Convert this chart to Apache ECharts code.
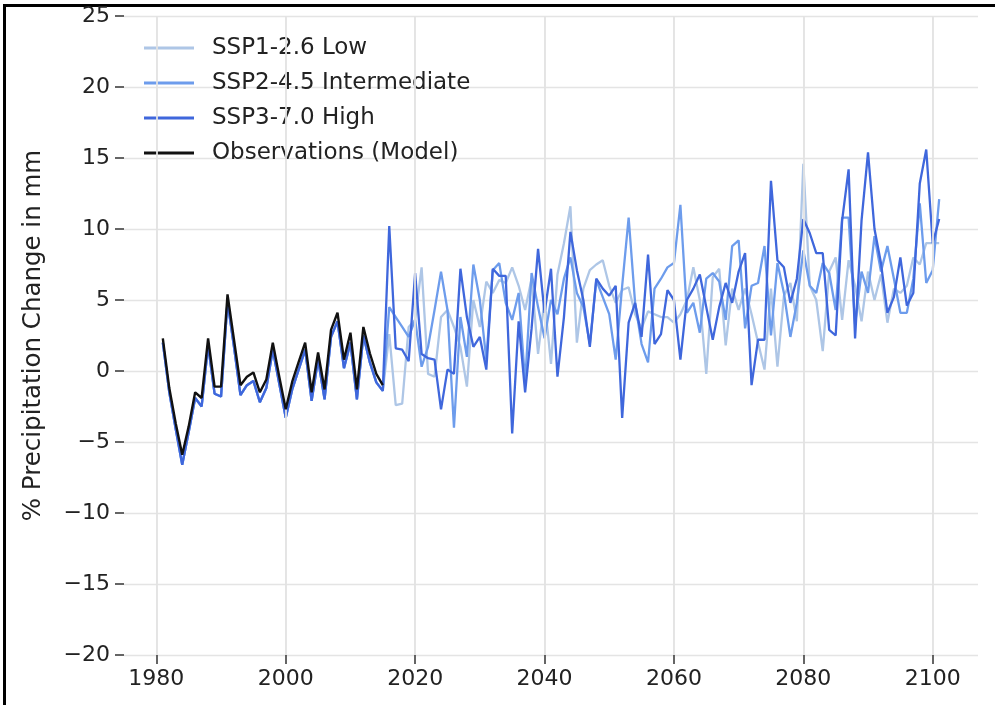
<!DOCTYPE html>
<html>
<head>
<meta charset="utf-8">
<script src="https://cdn.jsdelivr.net/npm/echarts@6/dist/echarts.min.js"></script>
<style>
html,body{margin:0;padding:0;background:#fff;}
#c{width:995px;height:705px;}
</style>
</head>
<body>
<div id="c"></div>
<script>
const histYears = [];
for (let y = 1981; y <= 2015; y++) histYears.push(y);
const futYears = [];
for (let y = 2016; y <= 2101; y++) futYears.push(y);

const obsValues = [2.3,-1.2,-3.7,-5.9,-3.9,-1.5,-1.9,2.3,-1.1,-1.1,5.4,2.2,-1.0,-0.4,-0.1,-1.5,-0.6,2.0,-0.4,-2.7,-0.75,0.65,2.0,-1.5,1.3,-1.3,2.9,4.1,0.8,2.7,-1.3,3.1,1.25,-0.2,-1.0];
const histModel = [2.0,-1.5,-4.1,-6.6,-4.3,-1.9,-2.5,1.8,-1.6,-1.8,4.9,1.7,-1.7,-1.0,-0.7,-2.2,-1.2,1.5,-0.9,-3.3,-1.3,0.1,1.5,-2.1,0.8,-2.0,2.4,3.5,0.2,2.0,-2.0,2.5,0.6,-0.8,-1.4];

// 2016..2101
const ssp1 = [2.6,-2.4,-2.3,3.1,3.6,7.3,-0.2,-0.4,3.8,4.3,3.1,1.7,-1.1,5.0,3.1,6.3,5.5,6.4,6.2,7.3,
  6.0,4.3,6.5,1.2,5.0,0.5,6.8,9.0,11.6,2.0,5.8,7.1,7.5,7.8,6.0,4.8,5.7,5.9,4.0,3.0,4.2,4.0,3.8,3.8,
  3.4,4.0,5.0,7.3,5.0,-0.2,6.6,7.2,1.8,5.8,4.3,5.8,4.0,2.0,0.1,5.8,0.3,5.3,6.2,3.5,14.6,
  6.0,5.0,1.4,7.0,8.0,3.6,7.8,6.0,3.5,7.0,5.0,6.8,3.4,5.8,5.5,6.0,8.0,7.5,9.0,9.0,9.0];
const ssp2 = [4.5,3.8,3.1,2.4,3.6,0.3,1.7,4.3,7.0,4.3,-4.0,3.8,1.0,7.5,5.0,0.8,7.1,7.6,4.8,3.6,
  5.5,-0.8,6.9,4.5,2.3,5.0,4.0,6.5,8.0,5.5,4.5,1.9,6.4,5.2,4.0,0.8,6.0,10.8,4.8,1.9,0.6,5.8,6.5,7.3,
  7.6,11.7,4.1,4.8,2.7,6.5,6.9,6.3,3.6,8.8,9.2,3.0,6.0,6.2,8.8,2.5,7.6,5.5,2.4,4.8,8.5,
  6.0,5.5,7.6,6.9,4.3,10.8,10.8,3.3,7.0,5.5,9.5,7.0,8.8,6.5,4.1,4.1,6.5,11.8,6.2,7.1,12.1];
const ssp3 = [10.2,1.6,1.5,0.7,6.9,1.2,0.9,0.8,-2.7,0.1,-0.2,7.2,3.8,1.7,2.4,0.1,7.2,6.7,6.7,-4.4,
  3.5,-1.5,3.0,8.6,4.1,7.2,-0.4,3.8,9.8,7.1,5.0,1.7,6.5,5.8,5.3,6.0,-3.3,3.4,4.8,2.4,8.2,1.9,2.6,5.7,
  5.0,0.8,5.0,5.8,6.8,4.5,2.2,4.5,6.2,4.8,7.0,8.3,-1.0,2.2,2.2,13.4,7.8,7.3,4.8,6.5,10.7,
  9.7,8.3,8.3,2.9,2.5,10.6,14.2,2.3,10.6,15.4,10.0,7.6,4.1,5.2,8.0,4.6,5.5,13.2,15.6,9.0,10.7];

const xTicks = [1980,2000,2020,2040,2060,2080,2100];
const seriesNames = ['SSP1-2.6 Low','SSP2-4.5 Intermediate','SSP3-7.0 High','Observations (Model)'];
const seriesColors = ['#aec6e6','#6d9cec','#3f67dc','#111111'];

function pairs(years, vals){ return years.map((y,i)=>[y, vals[i]]); }
const allYears = histYears.concat(futYears);

const chart = echarts.init(document.getElementById('c'), null, {renderer:'canvas'});
const font = 'DejaVu Sans';
const sspVals = [ssp1, ssp2, ssp3];

const series = [];
series.push({
  type:'line', name:'_grid', data:[], silent:true, z:0,
  markLine:{ silent:true, symbol:['none','none'], label:{show:false},
    lineStyle:{color:'#e2e2e2', width:1.8, type:'solid'},
    data: xTicks.map(t=>({xAxis:t})), animation:false}
});
for (let k=0;k<3;k++){
  series.push({
    type:'line', name:seriesNames[k], data:pairs(allYears, histModel.concat(sspVals[k])),
    showSymbol:false, symbol:'none', z:2+k,
    lineStyle:{width:2.3, color:seriesColors[k]}, itemStyle:{color:seriesColors[k]}
  });
}
series.push({
  type:'line', name:seriesNames[3], data:pairs(histYears, obsValues),
  showSymbol:false, symbol:'none', z:6,
  lineStyle:{width:2.4, color:seriesColors[3]}, itemStyle:{color:seriesColors[3]}
});

chart.setOption({
  animation:false,
  backgroundColor:'#ffffff',
  textStyle:{fontFamily:font},
  grid:{left:124, right:17, top:16, bottom:50, containLabel:false},
  legend:{
    data:seriesNames, orient:'vertical', left:144, top:36, padding:0,
    itemWidth:50, itemHeight:14, itemGap:11,
    textStyle:{fontFamily:font, fontSize:23, lineHeight:24, color:'#222', padding:[0,0,0,13]},
    icon:'path://M0,5.5 L50,5.5 L50,8.5 L0,8.5 Z'
  },
  xAxis:{
    type:'value', min:1975, max:2107,
    axisLine:{show:false, onZero:false},
    splitLine:{show:false},
    axisTick:{show:true, customValues:xTicks, length:9, lineStyle:{color:'#333', width:1.5}},
    axisLabel:{customValues:xTicks, fontSize:22, color:'#222', margin:13, fontFamily:font,
      formatter:v=>String(v)}
  },
  yAxis:{
    type:'value', min:-20, max:25, interval:5,
    name:'% Precipitation Change in mm', nameLocation:'middle', nameGap:78, nameRotate:90,
    nameTextStyle:{fontSize:24.5, color:'#222', fontFamily:font},
    axisLine:{show:false, onZero:false},
    axisTick:{show:true, length:9, lineStyle:{color:'#333', width:1.5}},
    splitLine:{show:true, lineStyle:{color:'#e4e4e4', width:1.3}},
    axisLabel:{fontSize:22, color:'#222', margin:14, fontFamily:font,
      formatter:v=> v<0 ? '\u2212'+Math.abs(v) : String(v)}
  },
  graphic:[
    {type:'rect', shape:{x:3, y:4, width:992, height:3}, style:{fill:'#000'}, silent:true},
    {type:'rect', shape:{x:3, y:4, width:3, height:701}, style:{fill:'#000'}, silent:true}
  ],
  series: series
});
</script>
</body>
</html>
